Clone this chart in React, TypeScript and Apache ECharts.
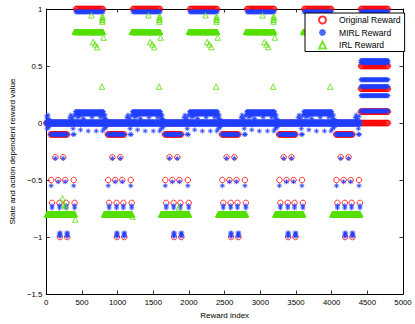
import React, { useEffect, useRef } from "react";
import * as echarts from "echarts";

// ---- data ----
const xTickValues = [0, 500, 1000, 1500, 2000, 2500, 3000, 3500, 4000, 4500, 5000];
const yTickValues = [-1.5, -1, -0.5, 0, 0.5, 1];

// start index of each 800-wide block (low half 0..400, high half 400..800)
const periodStarts = [0, 800, 1600, 2400, 3200, 4000];
const regularHighStarts = [0, 800, 1600, 2400, 3200];

// runs of dense markers: [fromOffset, toOffset, value]
const originalLowRuns = [[0, 395, 0], [62, 295, -0.1]];
const originalLowPoints = [
  [127, -0.3], [237, -0.3],
  [68, -0.5], [167, -0.5], [266, -0.5], [384, -0.5],
  [81, -0.7], [185, -0.7], [280, -0.7], [397, -0.7],
  [190, -1], [293, -1],
];
const originalHighRuns = [[415, 795, 1]];
const originalLastHighRuns = [
  [4410, 4795, 1], [4410, 4795, 0.5], [4410, 4795, 0.3], [4410, 4795, 0.1], [4410, 4795, 0],
];

const mirlLowRuns = [[0, 400, 0.012], [0, 400, -0.012], [62, 300, -0.1]];
const mirlLowPoints = [
  [5, 0.06], [15, 0.04], [25, 0.07], [35, -0.04], [45, 0.03], [10, -0.05],
  [330, 0.05], [345, 0.07], [360, 0.04], [375, -0.05], [385, 0.06], [372, -0.1], [392, -0.1],
  [127, -0.31], [237, -0.31],
  [68, -0.55], [167, -0.515], [266, -0.515], [384, -0.55],
  [81, -0.745], [185, -0.745], [280, -0.745], [397, -0.745],
  [81, -0.725], [185, -0.725], [280, -0.725], [397, -0.725],
  [183, -0.965], [197, -0.965], [183, -0.99], [197, -0.99],
  [286, -0.965], [300, -0.965], [286, -0.99], [300, -0.99],
];
const mirlHighRuns = [
  [400, 800, 0.012], [400, 800, -0.012], [415, 795, 0.975], [410, 800, 0.1], [410, 800, 0.078],
];
const mirlHighPoints = [
  [440, 0.05], [470, 0.06], [480, -0.06], [520, 0.04], [587, -0.07],
  [640, 0.05], [700, -0.07], [760, 0.05], [790, -0.07],
];
const mirlLastHighRuns = [
  [4410, 4795, 0.975], [4410, 4795, 0.548], [4410, 4795, 0.53], [4410, 4795, 0.38],
  [4410, 4795, 0.32], [4410, 4795, 0.24], [4410, 4795, 0.105],
];

const irlLowRuns = [[10, 400, -0.8]];
const irlHighRuns = [[400, 795, 0.8]];
const irlHighPoints = [
  [632, 0.945], [655, 0.71], [686, 0.69], [713, 0.666], [780, 0.32], [803, 0.75],
  [785, 0.89], [786, 0.905], [787, 0.92], [788, 0.935],
];
const irlExtraPoints = [
  [226, -0.66], [250, -0.715], [262, -0.73], [406, -0.846], [1210, -0.82], [1859, -0.74],
];

// ---- helpers to place markers of the runs ----
function runPoints(runs: number[][], base: number, step: number): number[][] {
  const out: number[][] = [];
  for (const [a, b, v] of runs) {
    for (let x = a; x <= b; x += step) out.push([base + x, v]);
  }
  return out;
}
function shifted(points: number[][], base: number): number[][] {
  return points.map(([x, v]) => [base + x, v]);
}

function buildOriginal() {
  let d: number[][] = [];
  for (const s of periodStarts) {
    d = d.concat(runPoints(originalLowRuns, s, 10), shifted(originalLowPoints, s));
  }
  for (const s of regularHighStarts) d = d.concat(runPoints(originalHighRuns, s, 10));
  d = d.concat(runPoints(originalLastHighRuns, 0, 10));
  return d;
}
function buildMirl() {
  let d: number[][] = [];
  for (const s of periodStarts) {
    d = d.concat(runPoints(mirlLowRuns, s, 10), shifted(mirlLowPoints, s));
  }
  for (const s of regularHighStarts) {
    d = d.concat(runPoints(mirlHighRuns, s, 10), shifted(mirlHighPoints, s));
  }
  d = d.concat(runPoints(mirlLastHighRuns, 0, 10));
  return d;
}
function buildIrl() {
  let d: number[][] = [];
  for (const s of periodStarts) d = d.concat(runPoints(irlLowRuns, s, 3));
  for (const s of regularHighStarts) {
    d = d.concat(runPoints(irlHighRuns, s, 3), shifted(irlHighPoints, s));
  }
  d = d.concat(irlExtraPoints);
  return d;
}

const FONT = "'Liberation Sans', Arial, Helvetica, sans-serif";
const ASTERISK = "path://M5,0L5,10M0,5L10,5M1.6,1.6L8.4,8.4M1.6,8.4L8.4,1.6";

export default function App() {
  const ref = useRef<HTMLDivElement>(null);
  useEffect(() => {
    document.body.style.margin = "0";
    if (!ref.current) return;
    const chart = echarts.init(ref.current, null, { renderer: "svg" });
    const fmtY = (v: number) => (v < 0 ? "\u2212" + String(Math.abs(v)) : String(v));
    const fmtX = (v: number) => String(v);
    const tickCommon = { show: true, inside: true, length: 3.5, lineStyle: { color: "#000", width: 0.8 } };
    const lineCommon = { show: true, onZero: false, lineStyle: { color: "#000", width: 1 } };
    chart.setOption({
      animation: false,
      backgroundColor: "#fff",
      grid: { left: 33, top: 9, width: 370, height: 291, containLabel: false },
      legend: {
        left: 305,
        top: 13,
        orient: "vertical",
        backgroundColor: "#fff",
        borderColor: "#000",
        borderWidth: 1,
        borderRadius: 0,
        padding: [2.5, 4, 2, 13],
        itemWidth: 7,
        itemHeight: 7,
        itemGap: 3.5,
        selectedMode: false,
        textStyle: { fontSize: 8.6, fontFamily: FONT, color: "#000", padding: [0, 0, 0, 8] },
        data: ["Original Reward", "MIRL Reward", "IRL Reward"],
      },
      xAxis: [
        {
          type: "value", min: 0, max: 5000, interval: 500, position: "bottom",
          axisLine: lineCommon, axisTick: tickCommon, splitLine: { show: false },
          axisLabel: { fontSize: 7.8, fontFamily: FONT, color: "#000", margin: 4, formatter: fmtX },
          name: "Reward index", nameLocation: "middle", nameGap: 13,
          nameTextStyle: { fontSize: 8, fontFamily: FONT, color: "#000" },
        },
        {
          type: "value", min: 0, max: 5000, interval: 500, position: "top",
          axisLine: lineCommon, axisTick: tickCommon, splitLine: { show: false },
          axisLabel: { show: false },
        },
      ],
      yAxis: [
        {
          type: "value", min: -1.5, max: 1, interval: 0.5, position: "left",
          axisLine: lineCommon, axisTick: tickCommon, splitLine: { show: false },
          axisLabel: { fontSize: 7.8, fontFamily: FONT, color: "#000", margin: 4, formatter: fmtY },
          name: "State and action dependent reward value", nameLocation: "middle", nameGap: 22,
          nameTextStyle: { fontSize: 8, fontFamily: FONT, color: "#000" },
        },
        {
          type: "value", min: -1.5, max: 1, interval: 0.5, position: "right",
          axisLine: lineCommon, axisTick: tickCommon, splitLine: { show: false },
          axisLabel: { show: false },
        },
      ],
      series: [
        {
          name: "Original Reward", type: "scatter", symbol: "circle", symbolSize: 5.5,
          itemStyle: { color: "rgba(0,0,0,0)", borderColor: "#ff0000", borderWidth: 1 },
          data: buildOriginal(), silent: true,
        },
        {
          name: "MIRL Reward", type: "scatter", symbol: ASTERISK, symbolSize: 5,
          itemStyle: { color: "rgba(0,0,0,0)", borderColor: "#2040ff", borderWidth: 1 },
          data: buildMirl(), silent: true,
        },
        {
          name: "IRL Reward", type: "scatter", symbol: "triangle", symbolSize: 5.5,
          itemStyle: { color: "rgba(0,0,0,0)", borderColor: "#55e000", borderWidth: 1 },
          data: buildIrl(), silent: true,
        },
      ],
    });
    return () => chart.dispose();
  }, []);
  return <div ref={ref} style={{ width: 415, height: 324 }} />;
}
